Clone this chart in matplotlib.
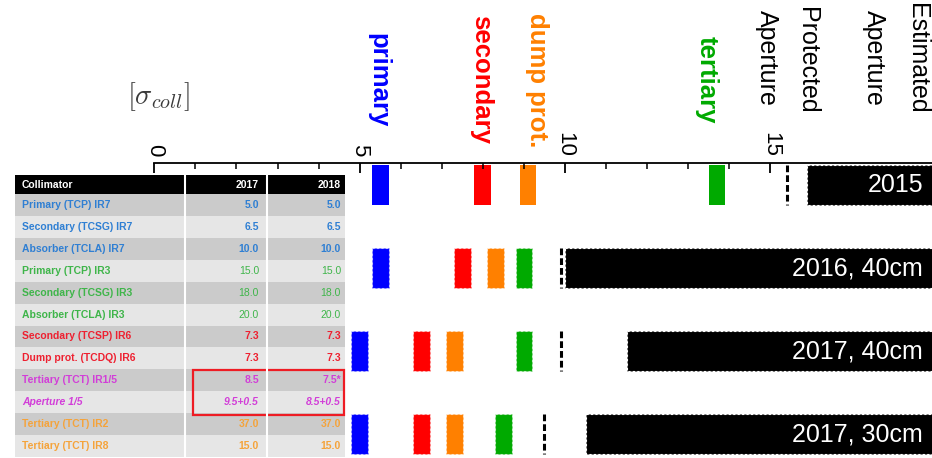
import matplotlib
matplotlib.use("Agg")
import matplotlib.pyplot as plt
from matplotlib.patches import Rectangle
import numpy as np

plt.rcParams['font.family'] = ['Liberation Sans', 'DejaVu Sans']
plt.rcParams['mathtext.fontset'] = 'cm'

# ---------------- data ----------------
scenarios = ["2015", "2016, 40cm", "2017, 40cm", "2017, 30cm"]
primary = [5.5, 5.5, 5.0, 5.0]
secondary = [8.0, 7.5, 6.5, 6.5]
dump_prot = [9.1, 8.3, 7.3, 7.3]
tertiary = [13.7, 9.0, 9.0, 8.5]
protected_aperture = [15.4, 9.9, 9.9, 9.5]
estimated_aperture = [15.9, 10.0, 11.5, 10.5]
major_ticks = [0, 5, 10, 15]
minor_ticks = [1, 2, 3, 4, 6, 7, 8, 9, 11, 12, 13, 14]

collimators = ["Primary (TCP) IR7", "Secondary (TCSG) IR7", "Absorber (TCLA) IR7",
               "Primary (TCP) IR3", "Secondary (TCSG) IR3", "Absorber (TCLA) IR3",
               "Secondary (TCSP) IR6", "Dump prot. (TCDQ) IR6",
               "Tertiary (TCT) IR1/5", "Aperture 1/5",
               "Tertiary (TCT) IR2", "Tertiary (TCT) IR8"]
settings_2017 = ["5.0", "6.5", "10.0", "15.0", "18.0", "20.0", "7.3", "7.3",
                 "8.5", "9.5+0.5", "37.0", "15.0"]
settings_2018 = ["5.0", "6.5", "10.0", "15.0", "18.0", "20.0", "7.3", "7.3",
                 "7.5*", "8.5+0.5", "37.0", "15.0"]
table_header = ["Collimator", "2017", "2018"]

# ---------------- styles ----------------
W, H = 932, 458
PX_PER_UNIT = 41.07
X0_PX = 154.3
AXIS_Y_PX = 163

C_BLUE, C_RED, C_ORANGE, C_GREEN = '#0000ff', '#ff0000', '#ff8000', '#00aa00'
row_colors = ['#2f7fd3'] * 3 + ['#3fb54a'] * 3 + ['#ee2030'] * 2 + ['#d23ed8'] * 2 + ['#f5a33a'] * 2
val_bold = [True] * 3 + [False] * 3 + [True] * 6
row_italic = [False] * 9 + [True] + [False] * 2

fig = plt.figure(figsize=(W / 100, H / 100), dpi=100)

ax = fig.add_axes([X0_PX / W, 0, 1 - X0_PX / W, (H - AXIS_Y_PX) / H])
xmax = (W - X0_PX) / PX_PER_UNIT
ax.set_xlim(0, xmax)
ax.set_ylim(3.289, -0.265)

rows = np.arange(len(scenarios))
bw, bh = 0.41, 0.49
for vals, c in [(primary, C_BLUE), (secondary, C_RED), (dump_prot, C_ORANGE), (tertiary, C_GREEN)]:
    cont = ax.barh(rows, bw, left=np.array(vals) - bw / 2, height=bh, color=c, linewidth=0)
    for i, p in enumerate(cont):
        if i > 0:
            p.set_edgecolor((1, 1, 1, 0.6))
            p.set_linestyle((0, (2, 2)))
            p.set_linewidth(0.8)

ax.vlines(protected_aperture, rows - bh / 2, rows + bh / 2, colors='black',
          linestyles=[(0, (2.2, 1.0))], linewidth=2.2)

est = np.array(estimated_aperture)
ax.barh(rows, xmax + 1 - est, left=est, height=bh, color='black',
        edgecolor='white', linestyle=(0, (2, 2)), linewidth=0.8)
for r, s in zip(rows, scenarios):
    ax.text((923 - X0_PX) / PX_PER_UNIT, r, s, color='white', ha='right', va='center', fontsize=18)

ax.xaxis.set_ticks_position('top')
ax.set_xticks(major_ticks)
ax.set_xticklabels([str(t) for t in major_ticks], rotation=-90, fontsize=16)
ax.set_xticks(minor_ticks, minor=True)
ax.tick_params(axis='x', which='major', direction='in', length=7, width=1.3, pad=4.5)
ax.tick_params(axis='x', which='minor', direction='in', length=4, width=1.1)
ax.set_yticks([])
for s in ['left', 'right', 'bottom']:
    ax.spines[s].set_visible(False)
ax.spines['top'].set_linewidth(1.3)

# ---------------- overlay (pixel coords) ----------------
ov = fig.add_axes([0, 0, 1, 1], zorder=3)
ov.set_xlim(0, W)
ov.set_ylim(H, 0)
ov.axis('off')
ov.patch.set_alpha(0)

# header labels
for txt, x, c in [("primary", 378, C_BLUE), ("secondary", 481, C_RED),
                  ("dump prot.", 537, C_ORANGE), ("tertiary", 707, C_GREEN)]:
    ov.text(x, 80, txt, rotation=-90, ha='center', va='center', fontsize=18.5,
            fontweight='bold', color=c)
for txt, x, top in [("Protected", 807, 7), ("Aperture", 767, 10),
                    ("Estimated", 917, 3), ("Aperture", 874, 10)]:
    ov.text(x, top, txt, rotation=-90, ha='center', va='top', fontsize=18, color='black')
ov.text(158, 97, r'$[\sigma_{coll}]$', ha='center', va='center', fontsize=20.5, color='#3a3a3a')

# table
TX = [15, 185, 267, 345]
HY0, HY1 = 175, 194
RH = (457 - HY1) / len(collimators)
ov.add_patch(Rectangle((TX[0], HY0), TX[3] - TX[0], HY1 - HY0, color='black', lw=0))
ov.text(22, (HY0 + HY1) / 2, table_header[0], color='white', fontsize=7.5,
        fontweight='bold', ha='left', va='center')
ov.text(259, (HY0 + HY1) / 2, table_header[1], color='white', fontsize=7.5,
        fontweight='bold', ha='right', va='center')
ov.text(341, (HY0 + HY1) / 2, table_header[2], color='white', fontsize=7.5,
        fontweight='bold', ha='right', va='center')
for i, name in enumerate(collimators):
    y0 = HY1 + i * RH
    ov.add_patch(Rectangle((TX[0], y0), TX[3] - TX[0], RH,
                           color='#cbcbcb' if i % 2 == 0 else '#e6e6e6', lw=0))
    yc = y0 + RH / 2
    style = 'italic' if row_italic[i] else 'normal'
    ov.text(22, yc, name, color=row_colors[i], fontsize=7.5, fontweight='bold',
            fontstyle=style, ha='left', va='center')
    vw = 'bold' if val_bold[i] else 'normal'
    ov.text(259, yc, settings_2017[i], color=row_colors[i], fontsize=7.5, fontweight=vw,
            fontstyle=style, ha='right', va='center')
    ov.text(341, yc, settings_2018[i], color=row_colors[i], fontsize=7.5, fontweight=vw,
            fontstyle=style, ha='right', va='center')
for x in TX[1:3]:
    ov.plot([x, x], [HY0, 457], color='white', lw=1.5)
ov.add_patch(Rectangle((193, 370), 151, 45, fill=False, edgecolor='#ee1c24', lw=1.6))

fig.savefig('out.png', dpi=100)
